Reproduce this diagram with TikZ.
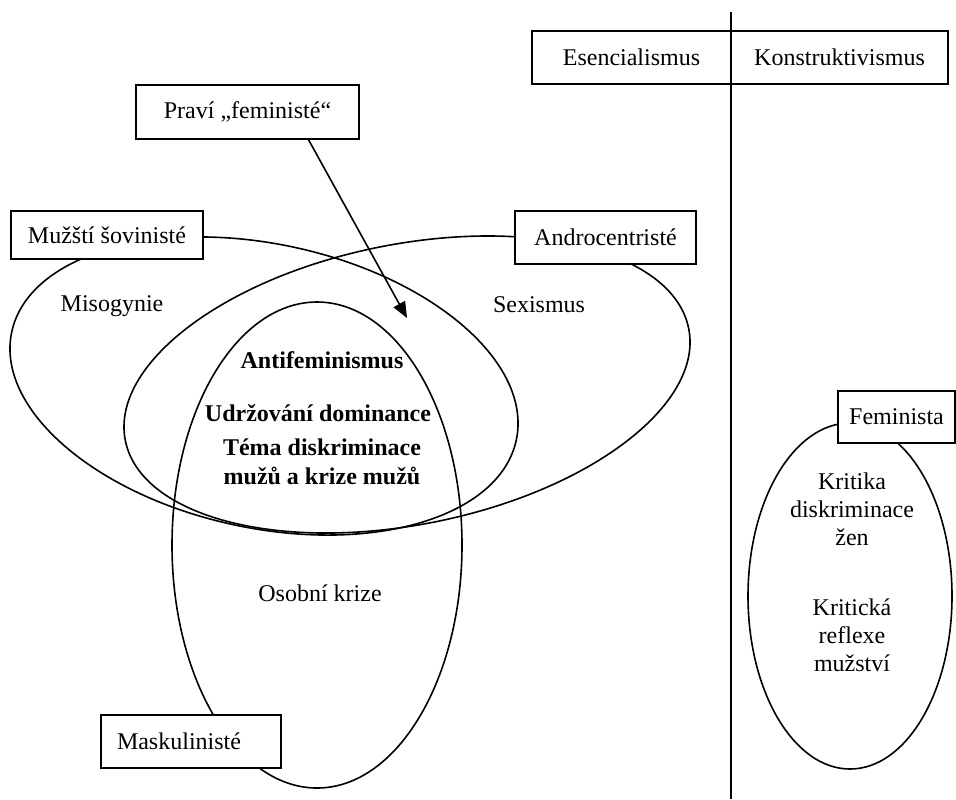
\documentclass[tikz,border=0pt]{standalone}
\usepackage{fontspec}
\setmainfont{Liberation Serif}
\usetikzlibrary{positioning}
\usetikzlibrary{shapes.geometric}
\usetikzlibrary{arrows.meta}

\begin{document}
\begin{tikzpicture}[x=0.5pt, y=-0.5pt, line width=0.8pt, font=\fontsize{12pt}{14pt}\selectfont,
	box/.style={draw, fill=white, inner sep=0pt, outer sep=0pt, minimum height=26.5pt},
	oval/.style={draw, ellipse, inner sep=0pt, outer sep=0pt},
	feat/.style={align=center, inner sep=0pt},
	strong/.style={feat, font=\fontsize{12pt}{14.5pt}\selectfont\bfseries},
	pointer/.style={-{Triangle[length=8pt, width=6.5pt]}}]
	\useasboundingbox (0,0) rectangle (956,799);

	% the ovals first, the boxes are laid over them
	\node [oval, minimum width=258pt, minimum height=142pt, rotate=-12.1] at (264,386) (3MuzOval) {};
	\node [oval, minimum width=287.2pt, minimum height=140.2pt, rotate=11.25] at (407,384.5) (3AndroOval) {};
	\node [oval, minimum width=145pt, minimum height=243pt] at (317,545) (6MaskOval) {};
	\node [oval, minimum width=102pt, minimum height=173pt] at (850,596) (5FemOval) {};

	\coordinate (divtop) at (731,12); \coordinate (divbot) at (731,799);
	\draw (divtop) -- (divbot);

	\node [feat] at (112,306) (3Miso) {Misogynie}; \node [feat] at (539,305) (3Sex) {Sexismus};
	\node [strong] at (322,360) (4Anti) {Antifeminismus}; \node [strong] at (318,413) (4Dom) {Udržování dominance};
	\node [strong] at (322,462) (4Tema) {Téma diskriminace\\mužů a krize mužů};
	\node [feat] at (320,593) (6Krize) {Osobní krize};
	\node [feat] at (852,509) (5Krit) {Kritika\\diskriminace\\žen}; \node [feat] at (852,635) (5Refl) {Kritická\\reflexe\\mužství};

	\node [box, minimum width=99.5pt] at (631.5,57.5) (1Esenc) {Esencialismus}; \node [box, minimum width=108.5pt, right=0pt of 1Esenc] (1Konstr) {Konstruktivismus};
	\node [box, minimum width=111.5pt, minimum height=27pt] at (247.5,112) (2Pravi) {Praví „feministé“};
	\node [box, minimum width=96pt, minimum height=24pt] at (107,235) (3Muz) {Mužští šovinisté}; \node [box, minimum width=90.5pt] at (605.5,237.5) (3Andro) {Androcentristé};
	\node [box, minimum width=58.5pt, minimum height=26pt] at (896.5,417) (5Fem) {Feminista};
	\node [box, text width=74pt, inner xsep=8pt, align=left] at (191,741.5) (6Mask) {Maskulinisté};

	\coordinate (pravitip) at (407,318);
	\draw [pointer] (2Pravi.-24) -- (pravitip);
\end{tikzpicture}
\end{document}
